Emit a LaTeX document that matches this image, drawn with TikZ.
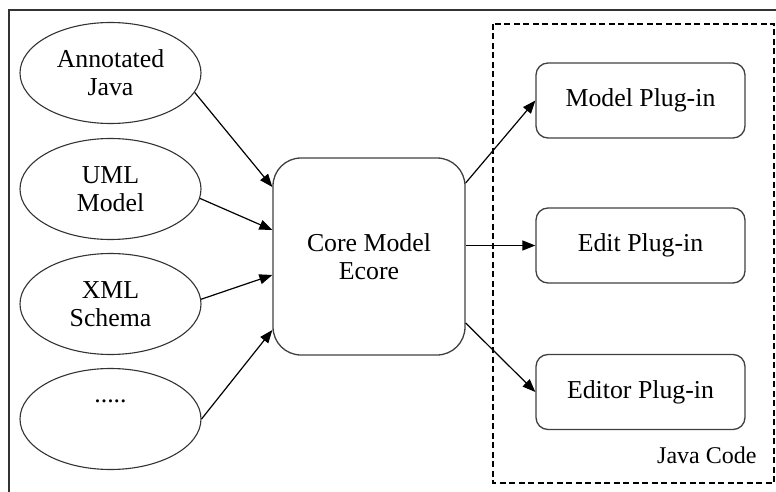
\documentclass[tikz,border=0pt]{standalone}
\usepackage{fontspec}
\setmainfont{Liberation Serif}
\usetikzlibrary{arrows.meta,shapes.geometric}
\begin{document}
\begin{tikzpicture}[x=1pt,y=-1pt,
  every node/.style={font=\fontsize{25.8pt}{28pt}\selectfont, text=black},
  srcell/.style={ellipse, draw=black!80, line width=1.1pt, minimum width=181pt, minimum height=101pt, inner sep=0pt, align=center},
  corebox/.style={draw=black!75, line width=1.3pt, rounded corners=28pt, minimum width=192pt, minimum height=197pt, inner sep=0pt, align=center},
  plugbox/.style={draw=black!75, line width=1.3pt, rounded corners=12pt, minimum width=209pt, minimum height=75pt, inner sep=0pt},
  arr/.style={line width=1.2pt, -{Triangle[length=13pt,width=10pt]}}
]
\useasboundingbox (0,0) rectangle (776,492);
% outer frame (cut at right and bottom)
\draw[line width=1.4pt, black!80] (9,492) -- (9,10) -- (776,10);
% dashed group
\draw[line width=1.3pt, dash pattern=on 6pt off 3.5pt] (493,24) rectangle (774,483);
\node[anchor=base east, font=\fontsize{24pt}{28pt}\selectfont] (jc) at (760,463) {Java Code};

\node[srcell] (e1) at (110.5,73) {Annotated\\Java};
\node[srcell] (e2) at (110.5,189) {UML\\Model};
\node[srcell] (e3) at (110.5,304) {XML\\Schema};
\node[srcell] (e4) at (110.5,419) {.....\\\strut};

\node[corebox] (core) at (369,256.5) {Core Model\\Ecore};

\node[plugbox] (mp) at (640.5,100.5) {Model Plug-in};
\node[plugbox] (ep) at (640.5,245.5) {Edit Plug-in};
\node[plugbox] (edp) at (640.5,392) {Editor Plug-in};

\draw[arr] (e1.-13) -- ([yshift=69.5pt]core.west);
\draw[arr] (e2.-6) -- ([yshift=26.5pt]core.west);
\draw[arr] (e3.3) -- ([yshift=-18.5pt]core.west);
\draw[arr] (e4.east) -- ([yshift=-73.5pt]core.west);

\draw[arr] ([yshift=73.5pt]core.east) -- (mp.west);
\draw[arr] (core.east |- ep.west) -- (ep.west);
\draw[arr] ([yshift=-66.5pt]core.east) -- (edp.west);
\end{tikzpicture}
\end{document}
